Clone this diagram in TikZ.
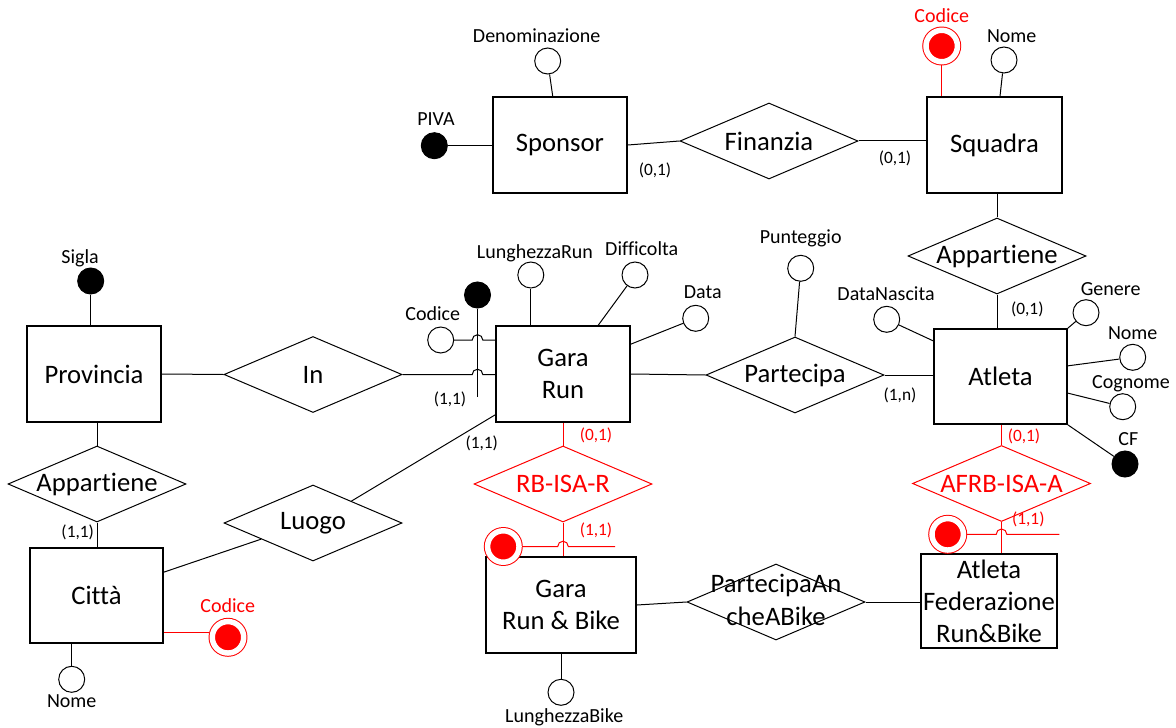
\documentclass[tikz,border=0pt]{standalone}
\usepackage{fontspec}
\setmainfont{Carlito}[Ligatures=NoCommon]
\usetikzlibrary{shapes.geometric,calc}
\begin{document}
\begin{tikzpicture}[x=0.75pt,y=-0.75pt,
  ent/.style={draw, line width=1.3pt, inner sep=0pt, align=center, font=\fontsize{20}{24}\selectfont},
  rel/.style={draw, shape=diamond, aspect=2.34, minimum width=133.5pt, minimum height=57pt, inner sep=0pt, line width=0.75pt, font=\fontsize{20}{24}\selectfont},
  attr/.style={circle, draw, fill=white, line width=0.75pt, minimum size=19.5pt, inner sep=0pt},
  key/.style={circle, draw, fill=black, line width=0.75pt, minimum size=19.5pt, inner sep=0pt},
  rkey/.style={circle, draw=red, fill=red, double=white, double distance=4.1pt, line width=0.75pt, minimum size=23.6pt, inner sep=0pt, outer sep=2.6pt},
  lab/.style={inner sep=0pt, text height=0.644em, text depth=0pt, font=\fontsize{15}{18}\selectfont},
  card/.style={inner sep=0pt, text height=0.644em, text depth=0pt, font=\fontsize{13}{15}\selectfont},
  conn/.style={line width=0.75pt},
  rconn/.style={line width=0.75pt, draw=red},
]
\useasboundingbox (0,0) rectangle (1176,727);

% entities
\node[ent, minimum width=100.5pt, minimum height=72pt] (Sponsor) at (560,145) {Sponsor};
\node[ent, minimum width=101.25pt, minimum height=72pt] (Squadra) at (994.5,145) {Squadra};
\node[ent, minimum width=100.5pt, minimum height=72pt] (Prov) at (94,374) {Provincia};
\node[ent, minimum width=99.75pt, minimum height=71.25pt] (Citta) at (96.5,595.5) {Città};
\node[ent, minimum width=100.5pt, minimum height=72pt] (GR) at (563,374) {Gara\\Run};
\node[ent, minimum width=99.75pt, minimum height=71.25pt] (Atleta) at (1000.5,376.5) {Atleta};
\node[ent, minimum width=112.5pt, minimum height=72pt] (GRB) at (561,605) {Gara\\Run \& Bike};
\node[ent, minimum width=102pt, minimum height=70.5pt] (AF) at (989,601) {Atleta\\Federazione\\Run\&Bike};

% relationships
\node[rel] (Fin) at (769,141) {\makebox[0pt]{Finanzia}};
\node[rel] (App1) at (997,256) {\makebox[0pt]{Appartiene}};
\node[rel] (In) at (313,374.5) {\makebox[0pt]{In}};
\node[rel] (Part) at (795,375) {\makebox[0pt]{Partecipa}};
\node[rel] (App2) at (97,484) {\makebox[0pt]{Appartiene}};
\node[rel] (Luogo) at (313,523) {\makebox[0pt]{Luogo}};
\node[rel, draw=red, text=red] (RB) at (563,484) {\makebox[0pt]{RB-ISA-R}};
\node[rel, draw=red, text=red] (AFRB) at (1001.5,483.5) {\makebox[0pt]{AFRB-ISA-A}};
\node[rel, font=\fontsize{20}{25}\selectfont] (PAB) at (776,602) {\makebox[0pt]{\begin{tabular}{@{}c@{}}PartecipaAn\\cheABike\end{tabular}}};

% attributes
\node[key] (PIVA) at (434.3,145.7) {};
\node[attr] (Den) at (547.7,61) {};
\node[rkey] (SqCod) at (941.7,46) {};
\node[attr] (SqNome) at (1004,60) {};
\node[key] (Sigla) at (90.7,281) {};
\node[attr] (LR) at (530.8,275) {};
\node[attr] (Diff) at (635,275) {};
\node[attr] (Data) at (695.7,318.3) {};
\node[attr] (GCod) at (440.7,340) {};
\node[key] (Kg) at (477.5,295) {};
\node[attr] (Punt) at (800.7,268.3) {};
\node[attr] (DN) at (886.7,319.3) {};
\node[attr] (Gen) at (1086,312.7) {};
\node[attr] (ANome) at (1132.7,357.3) {};
\node[attr] (Cog) at (1122.7,406.7) {};
\node[key] (CF) at (1125,464) {};
\node[rkey] (GRBKey) at (503.3,546.5) {};
\node[rkey] (AFKey) at (947.7,534.3) {};
\node[rkey] (CCod) at (228,637.3) {};
\node[attr] (CNome) at (71.7,679.3) {};
\node[attr] (LB) at (561,692.3) {};

% labels
\node[lab] (lDen) at (536.7,38.3) {Denominazione};
\node[lab] (lPIVA) at (436,121.7) {PIVA};
\node[lab, text=red] (lSqCod) at (941.7,18.3) {Codice};
\node[lab] (lSqNome) at (1011.7,38.3) {Nome};
\node[card] (c1) at (655,171.7) {(0,1)};
\node[card] (c2) at (895,159.5) {(0,1)};
\node[lab] (lSigla) at (80,259.3) {Sigla};
\node[lab] (lLR) at (535,254) {LunghezzaRun};
\node[lab] (lDiff) at (641.7,251.7) {Difficolta};
\node[lab] (lData) at (702.7,294) {Data};
\node[lab] (lGCod) at (432.7,316.7) {Codice};
\node[card] (c3) at (450,400.7) {(1,1)};
\node[card] (c4) at (481.7,444) {(1,1)};
\node[lab] (lPunt) at (800.7,239) {Punteggio};
\node[lab] (lDN) at (886,296) {DataNascita};
\node[lab] (lGen) at (1110.7,291.7) {Genere};
\node[lab] (lANome) at (1132.7,335) {Nome};
\node[lab] (lCog) at (1131,384) {Cognome};
\node[lab] (lCF) at (1128.3,441.7) {CF};
\node[card] (c5) at (1027.3,310) {(0,1)};
\node[card] (c6) at (900,396) {(1,n)};
\node[card, text=red] (c7) at (596,436.7) {(0,1)};
\node[card, text=red] (c8) at (1024,437.3) {(0,1)};
\node[card, text=red] (c9) at (596,531.7) {(1,1)};
\node[card, text=red] (c10) at (1028.3,520.7) {(1,1)};
\node[card] (c11) at (77.7,533.3) {(1,1)};
\node[lab, text=red] (lCCod) at (227.7,608.3) {Codice};
\node[lab] (lCNome) at (71.7,703.3) {Nome};
\node[lab] (lLB) at (564.2,718.3) {LunghezzaBike};

% connectors
\draw[conn] (PIVA) -- (Sponsor.west |- PIVA);
\draw[conn] (Den) -- ($(Sponsor.north)+(-7.3,0)$);
\draw[conn] (Sponsor.east) -- (Fin.west);
\draw[conn] (Fin.east) -- (Fin.east -| Squadra.west);
\draw[rconn] (SqCod) -- (SqCod |- Squadra.north);
\draw[conn] (SqNome) -- ($(Squadra.north)+(5.5,0)$);
\draw[conn] (App1.north) -- (App1.north |- Squadra.south);
\draw[conn] (App1.south) -- (App1.south |- Atleta.north);
\draw[conn] (Sigla) -- (Sigla |- Prov.north);
\draw[conn] (Prov.east) -- (In.west);
\draw[conn] (In.east) -- ($(Kg |- In.east)+(-5.3,0)$) arc[start angle=180,end angle=360,radius=5.3] -- (In.east -| GR.west);
\draw[conn] (GCod) -- ($(Kg |- GCod)+(-5.3,0)$) arc[start angle=180,end angle=360,radius=5.3] -- (GCod -| GR.west);
\coordinate (KgEnd) at (477.5,396.7);
\draw[conn] (Kg) -- (KgEnd);
\draw[conn] (LR) -- (LR |- GR.north);
\draw[conn] (Diff) -- ($(GR.north)+(35.3,0)$);
\draw[conn] (Data) -- ($(GR.north east)+(0,19)$);
\draw[conn] (GR.east) -- (Part.west);
\draw[conn] (Part.east) -- (Part.east -| Atleta.west);
\draw[conn] (Punt) -- (Part.north);
\draw[conn] (DN) -- ($(Atleta.north west)+(0,12.7)$);
\draw[conn] (Gen) -- (Atleta.north east);
\draw[conn] (ANome) -- ($(Atleta.north east)+(0,37.7)$);
\draw[conn] (Cog) -- ($(Atleta.north east)+(0,65)$);
\draw[conn] (CF) -- (Atleta.south east);
\draw[rconn] (AFRB.north) -- (AFRB.north |- Atleta.south);
\draw[rconn] (AFRB.south) -- (AFRB.south |- AF.north);
\coordinate (AFEnd) at (1059.3,534.3);
\draw[rconn] (AFKey) -- ($(AFRB.south |- AFKey)+(-5.3,0)$) arc[start angle=180,end angle=360,radius=5.3] -- (AFEnd);
\draw[rconn] (RB.north) -- (RB.north |- GR.south);
\draw[rconn] (RB.south) -- (RB.south |- GRB.north);
\coordinate (GRBEnd) at (615,546.5);
\draw[rconn] (GRBKey) -- ($(RB.south |- GRBKey)+(-5.3,0)$) arc[start angle=180,end angle=360,radius=5.3] -- (GRBEnd);
\draw[conn] (GRB.east) -- (PAB.west);
\draw[conn] (PAB.east) -- (PAB.east -| AF.west);
\draw[conn] (LB) -- (LB |- GRB.south);
\draw[conn] (App2.north) -- (App2.north |- Prov.south);
\draw[conn] (App2.south) -- (App2.south |- Citta.north);
\draw[conn] ($(Citta.north east)+(0,25)$) -- ($(Luogo.west)!0.42!(Luogo.south)$);
\draw[conn] ($(Luogo.north)!0.43!(Luogo.east)$) -- ($(GR.south west)+(0,-8)$);
\coordinate (CcP) at ($(Citta.south east)+(0,-11)$);
\draw[rconn] (CcP) -- (CcP -| CCod.west);
\draw[conn] (CNome) -- (CNome |- Citta.south);
\end{tikzpicture}
\end{document}
